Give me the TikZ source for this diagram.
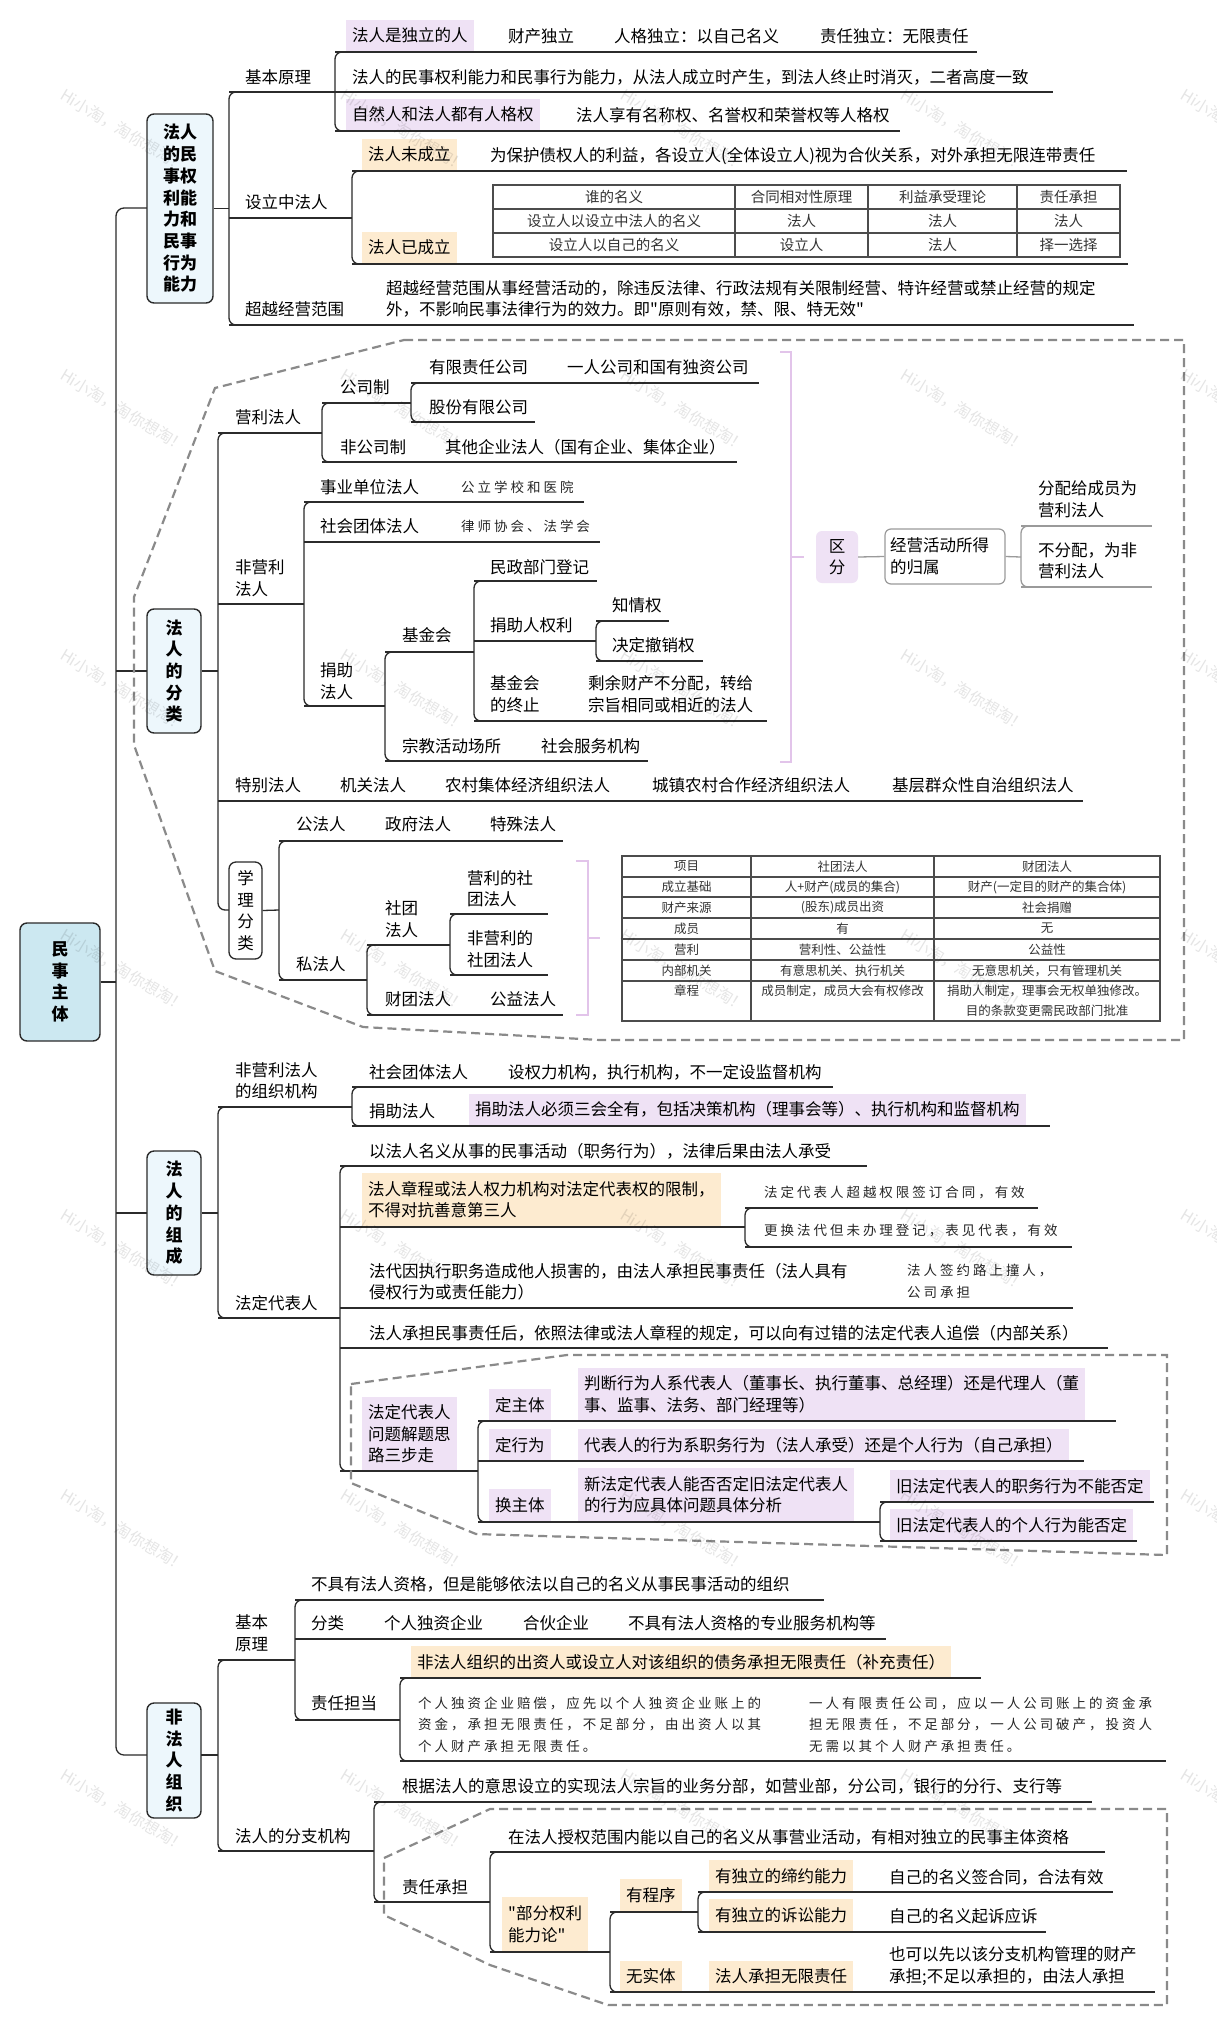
\documentclass[tikz,border=0pt]{standalone}
\usepackage{fontspec}
\setmainfont{Noto Sans CJK SC}
\newfontfamily\hwfam[LetterSpace=22]{Noto Sans CJK SC}
\newfontfamily\qfam{Noto Sans CJK SC}
\usepackage{tikz}
\definecolor{line-draw}{HTML}{2B2B2B}
\definecolor{soft-draw}{HTML}{9A9A9A}
\definecolor{dash-draw}{HTML}{8A8A8A}
\definecolor{rootfill}{HTML}{CCE8F1}
\definecolor{lvlfill}{HTML}{EDF7FC}
\definecolor{hlpurple}{HTML}{EFE2F5}
\definecolor{hlorange}{HTML}{FDEBD0}
\definecolor{brkline}{HTML}{E2C4EA}
\definecolor{tabtext}{HTML}{333333}
\newcommand\fs{\fontsize{16.5}{21.5}\selectfont}
\newcommand\fsb{\fontsize{17}{21.7}\selectfont\bfseries}
\newcommand\fst{\fontsize{14.5}{18}\selectfont}
\newcommand\fsu{\fontsize{12.5}{20}\selectfont}
\newcommand\fsh{\fontsize{13.5}{21.5}\hwfam}
\newcommand\dq{{\qfam"}}
% spine of a fork: x, top y, bottom y
\newcommand\mmspine[4][ln]{\draw[#1, rounded corners=7pt] (#2+12,#3) -- (#2,#3) -- (#2,#4) -- (#2+12,#4);}
% underline: y, from x, to x
\newcommand\mmline[4][ln]{\draw[#1] (#3,#2) -- (#4,#2);}

\begin{document}
\begin{tikzpicture}[x=1pt, y=-1pt,
 ln/.style={draw=line-draw, line width=1.3pt},
 lg/.style={draw=soft-draw, line width=1.3pt},
 brk/.style={draw=brkline, line width=2.4pt},
 bound/.style={draw=dash-draw, line width=2.2pt, dash pattern=on 9pt off 5pt},
 tbl/.style={draw=black!70, line width=1.2pt},
 tx/.style={anchor=west, inner sep=0pt, align=left, font=\fs},
 hw/.style={tx, font=\fsh, text=black!85},
 hlP/.style={anchor=south west, fill=hlpurple, inner xsep=6pt, inner ysep=0pt,
 minimum height=31pt, align=left, font=\fs},
 hlO/.style={hlP, fill=hlorange},
 lvl/.style={draw=line-draw, line width=1.4pt, rounded corners=7pt, fill=lvlfill,
 align=center, font=\fsb, inner sep=0pt, minimum width=54pt},
 rootbox/.style={lvl, fill=rootfill, minimum width=80pt, minimum height=118pt},
 tb/.style={inner sep=0pt, font=\fst, text=tabtext, align=center},
 tu/.style={tb, font=\fsu},
 wmk/.style={anchor=west, rotate=-31, text=black, opacity=0.1, font=\fontsize{16}{16}\selectfont},
]
\useasboundingbox (0,0) rectangle (1216,2026);
\fill[white] (0,0) rectangle (1216,2026);

% root and main spine
\node[rootbox] (root) at (60,982) {民\\事\\主\\体};
\draw[ln, rounded corners=8pt] (147,208) -- (116,208) -- (116,1755) -- (147,1755);
\draw[ln] (root.east) -- (116,982);
\draw[ln] (116,671) -- (147,671);
\draw[ln] (116,1213) -- (147,1213);
\node[lvl, minimum width=66pt, minimum height=189pt] (secA) at (180,208.5) {法人\\的民\\事权\\利能\\力和\\民事\\行为\\能力};
\node[lvl, minimum height=124pt] (secB) at (174,671) {法\\人\\的\\分\\类};
\node[lvl, minimum height=124pt] (secC) at (174,1213) {法\\人\\的\\组\\成};
\node[lvl, minimum height=115pt] (secD) at (174,1760.5) {非\\法\\人\\组\\织};
\draw[ln] (secA.east) -- (229,208.5);
\draw[ln] (secB.east) -- (218,671);
\draw[ln] (secC.east) -- (218,1213);
\draw[ln] (201,1755) -- (218,1755);

% ---------- 法人的民事权利能力和民事行为能力
\mmspine{229}{92}{325}
\mmline{92}{229}{335}
\mmline{218}{229}{352}
\mmline{325}{229}{1134}
\node[tx] (a1) at (245,77) {基本原理};
\node[tx] (a2) at (245,202) {设立中法人};
\node[tx] (a3) at (245,309) {超越经营范围};
\node[tx] (a31) at (386,299) {超越经营范围从事经营活动的，除违反法律、行政法规有关限制经营、特许经营或禁止经营的规定\\外，不影响民事法律行为的效力。即\dq 原则有效，禁、限、特无效\dq};
\mmspine{335}{52}{131}
\mmline{52}{335}{977}
\mmline{92}{335}{1053}
\mmline{131}{335}{900}
\node[hlP] (a11) at (346,51) {法人是独立的人};
\node[tx] (a12) at (508,36) {财产独立};
\node[tx] (a13) at (614,36) {人格独立：以自己名义};
\node[tx] (a14) at (820,36) {责任独立：无限责任};
\node[tx] (a15) at (352,77) {法人的民事权利能力和民事行为能力，从法人成立时产生，到法人终止时消灭，二者高度一致};
\node[hlP] (a16) at (346,130) {自然人和法人都有人格权};
\node[tx] (a17) at (576,115) {法人享有名称权、名誉权和荣誉权等人格权};
\mmspine{352}{171}{264}
\mmline{171}{352}{1127}
\mmline{264}{352}{1128}
\node[hlO] (a21) at (362,170) {法人未成立};
\node[tx] (a22) at (490,156) {为保护债权人的利益，各设立人(全体设立人)视为合伙关系，对外承担无限连带责任};
\node[hlO] (a23) at (362,263) {法人已成立};
% table of 设立中法人
\draw[tbl] (493,185) rectangle (1120,257);
\draw[tbl] (493,209) -- (1120,209) (493,233) -- (1120,233)
 (735,185) -- (735,257) (868,185) -- (868,257) (1017,185) -- (1017,257);
\node[tb] (ta1) at (614,197) {谁的名义};
\node[tb] (ta2) at (801.5,197) {合同相对性原理};
\node[tb] (ta3) at (942.5,197) {利益承受理论};
\node[tb] (ta4) at (1068.5,197) {责任承担};
\node[tb] (ta5) at (614,221) {设立人以设立中法人的名义};
\node[tb] (ta6) at (801.5,221) {法人};
\node[tb] (ta7) at (942.5,221) {法人};
\node[tb] (ta8) at (1068.5,221) {法人};
\node[tb] (ta9) at (614,245) {设立人以自己的名义};
\node[tb] (ta10) at (801.5,245) {设立人};
\node[tb] (ta11) at (942.5,245) {法人};
\node[tb] (ta12) at (1068.5,245) {择一选择};

% ---------- 法人的分类
\draw[bound] (404,340) -- (1184,340) -- (1184,1040) -- (600,1040) -- (363,1027)
 -- (215,971) -- (134,745) -- (134,597) -- (215,388) -- cycle;
\mmspine{218}{433}{910}
\mmline{433}{218}{322}
\mmline{604}{218}{304}
\mmline{801}{218}{1083}
\node[tx] (b1) at (235,417) {营利法人};
\node[tx] (b2) at (235,578) {非营利\\法人};
\node[tx] (b3) at (235,785) {特别法人};
\node[draw=line-draw, line width=1.3pt, rounded corners=7pt, fill=white, minimum width=33pt,
 minimum height=97pt, inner sep=0pt, align=center, font=\fs] (b4) at (245.5,910.5) {学\\理\\分\\类};
\draw[ln] (b4.east) -- (279,910);
\mmspine{322}{403}{462}
\mmline{403}{322}{411}
\mmline{462}{322}{737}
\node[tx] (b11) at (340,387) {公司制};
\node[tx] (b12) at (340,447) {非公司制};
\node[tx] (b13) at (445,447) {其他企业法人（国有企业、集体企业）};
\mmspine{411}{383}{422}
\mmline{383}{411}{759}
\mmline{422}{411}{535}
\node[tx] (b111) at (429,367) {有限责任公司};
\node[tx] (b112) at (567,367) {一人公司和国有独资公司};
\node[tx] (b113) at (429,407) {股份有限公司};
\mmspine{304}{502}{706}
\mmline{502}{304}{584}
\mmline{542}{304}{600}
\mmline{706}{304}{385}
\node[tx] (b21) at (320,487) {事业单位法人};
\node[hw] (b22) at (461,487) {公立学校和医院};
\node[tx] (b23) at (320,526) {社会团体法人};
\node[hw] (b24) at (461,526) {律师协会、法学会};
\node[tx] (b25) at (320,681) {捐助\\法人};
\mmspine{385}{652}{761}
\mmline{652}{385}{474}
\mmline{761}{385}{648}
\node[tx] (b251) at (402,635) {基金会};
\node[tx] (b252) at (402,746) {宗教活动场所};
\node[tx] (b253) at (541,746) {社会服务机构};
\mmspine{474}{581}{721}
\mmline{581}{474}{597}
\mmline{641}{474}{596}
\mmline{721}{474}{767}
\node[tx] (b2511) at (490,567) {民政部门登记};
\node[tx] (b2512) at (490,625) {捐助人权利};
\node[tx] (b2513) at (490,694) {基金会\\的终止};
\node[tx] (b2514) at (588,694) {剩余财产不分配，转给\\宗旨相同或相近的法人};
\mmspine{596}{621}{661}
\mmline{621}{596}{669}
\mmline{661}{596}{703}
\node[tx] (b25121) at (612,605) {知情权};
\node[tx] (b25122) at (612,645) {决定撤销权};
\node[tx] (b31) at (340,785) {机关法人};
\node[tx] (b32) at (445,785) {农村集体经济组织法人};
\node[tx] (b33) at (652,785) {城镇农村合作经济组织法人};
\node[tx] (b34) at (892,785) {基层群众性自治组织法人};
\mmspine{279}{841}{980}
\mmline{841}{279}{563}
\mmline{980}{279}{367}
\node[tx] (b41) at (296,824) {公法人};
\node[tx] (b42) at (385,824) {政府法人};
\node[tx] (b43) at (490,824) {特殊法人};
\node[tx] (b44) at (296,964) {私法人};
\mmspine{367}{945}{1015}
\mmline{945}{367}{450}
\mmline{1015}{367}{563}
\node[tx] (b441) at (385,919) {社团\\法人};
\node[tx] (b442) at (385,999) {财团法人};
\node[tx] (b443) at (490,999) {公益法人};
\mmspine{450}{914}{975}
\mmline{914}{450}{548}
\mmline{975}{450}{548}
\node[tx] (b4411) at (467,888.5) {营利的社\\团法人};
\node[tx] (b4412) at (467,949) {非营利的\\社团法人};
% summary: 区分
\draw[brk] (780,352) -- (791,352) -- (791,762) -- (780,762);
\draw[brk] (791,557) -- (804,557);
\node[fill=hlpurple, rounded corners=6pt, minimum width=42pt, minimum height=52pt,
 inner sep=0pt, align=center, font=\fs] (qf) at (837,557) {区\\分};
\node[draw=soft-draw, line width=1.2pt, rounded corners=6pt, minimum height=55pt,
 text width=110pt, inner xsep=5pt, align=left, font=\fs] (gs) at (945,556.5) {经营活动所得\\的归属};
\draw[lg] (qf.east) -- (gs.west);
\draw[lg] (gs.east) -- (1021,557);
\mmspine[lg]{1021}{526}{587}
\mmline[lg]{526}{1021}{1152}
\mmline[lg]{587}{1021}{1152}
\node[tx] (q1) at (1038,499.5) {分配给成员为\\营利法人};
\node[tx] (q2) at (1038,561) {不分配，为非\\营利法人};
% summary: 社团法人与财团法人
\draw[brk] (576,861) -- (588,861) -- (588,1015) -- (576,1015);
\draw[brk] (588,938) -- (600,938);
\draw[tbl] (622,856) rectangle (1160,1021);
\draw[tbl] (622,877) -- (1160,877) (622,897) -- (1160,897) (622,918) -- (1160,918)
 (622,939) -- (1160,939) (622,960) -- (1160,960) (622,981) -- (1160,981)
 (751,856) -- (751,1021) (934,856) -- (934,1021);
\node[tu] (tb1) at (686.5,866.5) {项目};
\node[tu] (tb2) at (842.5,866.5) {社团法人};
\node[tu] (tb3) at (1047,866.5) {财团法人};
\node[tu] (tb4) at (686.5,887) {成立基础};
\node[tu] (tb5) at (842.5,887) {人+财产(成员的集合)};
\node[tu] (tb6) at (1047,887) {财产(一定目的财产的集合体)};
\node[tu] (tb7) at (686.5,907.5) {财产来源};
\node[tu] (tb8) at (842.5,907.5) {(股东)成员出资};
\node[tu] (tb9) at (1047,907.5) {社会捐赠};
\node[tu] (tb10) at (686.5,928.5) {成员};
\node[tu] (tb11) at (842.5,928.5) {有};
\node[tu] (tb12) at (1047,928.5) {无};
\node[tu] (tb13) at (686.5,949.5) {营利};
\node[tu] (tb14) at (842.5,949.5) {营利性、公益性};
\node[tu] (tb15) at (1047,949.5) {公益性};
\node[tu] (tb16) at (686.5,970.5) {内部机关};
\node[tu] (tb17) at (842.5,970.5) {有意思机关、执行机关};
\node[tu] (tb18) at (1047,970.5) {无意思机关，只有管理机关};
\node[tu] (tb19) at (686.5,991) {章程};
\node[tu] (tb20) at (842.5,991) {成员制定，成员大会有权修改};
\node[tu] (tb21) at (1047,1001) {捐助人制定，理事会无权单独修改。\\目的条款变更需民政部门批准};

% ---------- 法人的组成
\mmspine{218}{1107}{1318}
\mmline{1107}{218}{352}
\mmline{1318}{218}{340}
\node[tx] (c1) at (235,1080.5) {非营利法人\\的组织机构};
\node[tx] (c2) at (235,1303) {法定代表人};
\mmspine{352}{1087}{1126}
\mmline{1087}{352}{833}
\mmline{1126}{352}{1050}
\node[tx] (c11) at (369,1072) {社会团体法人};
\node[tx] (c12) at (508,1072) {设权力机构，执行机构，不一定设监督机构};
\node[tx] (c13) at (369,1111) {捐助法人};
\node[hlP] (c14) at (469,1125.5) {捐助法人必须三会全有，包括决策机构（理事会等）、执行机构和监督机构};
\mmspine{340}{1166}{1471}
\mmline{1166}{340}{867}
\mmline{1227}{340}{745}
\mmline{1308}{340}{1073}
\mmline{1348}{340}{1108}
\mmline{1471}{340}{478}
\node[tx] (c21) at (369,1151) {以法人名义从事的民事活动（职务行为），法律后果由法人承受};
\node[hlO, minimum height=53pt] (c22) at (362,1226.5) {法人章程或法人权力机构对法定代表权的限制，\\不得对抗善意第三人};
\mmspine{745}{1208}{1247}
\mmline{1208}{745}{1038}
\mmline{1247}{745}{1072}
\node[hw] (c221) at (764,1192) {法定代表人超越权限签订合同，有效};
\node[hw] (c222) at (764,1231) {更换法代但未办理登记，表见代表，有效};
\node[tx] (c23) at (369,1281.5) {法代因执行职务造成他人损害的，由法人承担民事责任（法人具有\\侵权行为或责任能力）};
\node[hw] (c24) at (907,1281.5) {法人签约路上撞人，\\公司承担};
\node[tx] (c25) at (369,1333) {法人承担民事责任后，依照法律或法人章程的规定，可以向有过错的法定代表人追偿（内部关系）};
\draw[bound] (351,1384) -- (567,1355) -- (1167,1355) -- (1167,1555) -- (476,1534)
 -- (351,1483) -- cycle;
\node[hlP, minimum height=73pt] (c26) at (362,1470.5) {法定代表人\\问题解题思\\路三步走};
\mmspine{478}{1421}{1522}
\mmline{1421}{478}{1116}
\mmline{1461}{478}{1084}
\mmline{1522}{478}{880}
\node[hlP] (c261) at (489,1420.5) {定主体};
\node[hlP, minimum height=52pt] (c262) at (578,1420.5) {判断行为人系代表人（董事长、执行董事、总经理）还是代理人（董\\事、监事、法务、部门经理等）};
\node[hlP] (c263) at (489,1460.5) {定行为};
\node[hlP] (c264) at (578,1460.5) {代表人的行为系职务行为（法人承受）还是个人行为（自己承担）};
\node[hlP, minimum height=32pt] (c265) at (489,1521.5) {换主体};
\node[hlP, minimum height=53pt] (c266) at (578,1521.5) {新法定代表人能否否定旧法定代表人\\的行为应具体问题具体分析};
\mmspine{880}{1502}{1541}
\mmline{1502}{880}{1154}
\mmline{1541}{880}{1137}
\node[hlP] (c2661) at (890,1501.5) {旧法定代表人的职务行为不能否定};
\node[hlP] (c2662) at (890,1540.5) {旧法定代表人的个人行为能否定};

% ---------- 非法人组织
\mmspine{218}{1660}{1851}
\mmline{1660}{218}{295}
\mmline{1851}{218}{374}
\node[tx] (d1) at (235,1633) {基本\\原理};
\node[tx] (d2) at (235,1836) {法人的分支机构};
\mmspine{295}{1600}{1720}
\mmline{1600}{295}{824}
\mmline{1639}{295}{886}
\mmline{1720}{295}{400}
\node[tx] (d11) at (311,1584) {不具有法人资格，但是能够依法以自己的名义从事民事活动的组织};
\node[tx] (d12) at (311,1623) {分类};
\node[tx] (d13) at (384,1623) {个人独资企业};
\node[tx] (d14) at (523,1623) {合伙企业};
\node[tx] (d15) at (628,1623) {不具有法人资格的专业服务机构等};
\node[tx] (d16) at (311,1703) {责任担当};
\mmspine{400}{1678}{1761}
\mmline{1678}{400}{981}
\mmline{1761}{400}{1166}
\node[hlO] (d161) at (411,1677.5) {非法人组织的出资人或设立人对该组织的债务承担无限责任（补充责任）};
\node[hw] (d162) at (418,1724.5) {个人独资企业赔偿，应先以个人独资企业账上的\\资金，承担无限责任，不足部分，由出资人以其\\个人财产承担无限责任。};
\node[hw] (d163) at (809,1724.5) {一人有限责任公司，应以一人公司账上的资金承\\担无限责任，不足部分，一人公司破产，投资人\\无需以其个人财产承担责任。};
\mmspine{374}{1802}{1902}
\mmline{1802}{374}{1092}
\mmline{1902}{374}{490}
\node[tx] (d21) at (402,1786) {根据法人的意思设立的实现法人宗旨的业务分部，如营业部，分公司，银行的分行、支行等};
\node[tx] (d22) at (402,1887) {责任承担};
\draw[bound] (384,1858) -- (490,1809) -- (1167,1809) -- (1167,2005) -- (608,2005)
 -- (490,1965) -- (384,1915) -- cycle;
\mmspine{490}{1852}{1952}
\mmline{1852}{490}{1105}
\mmline{1952}{490}{610}
\node[tx] (d221) at (508,1837) {在法人授权范围内能以自己的名义从事营业活动，有相对独立的民事主体资格};
\node[hlO, minimum height=54pt] (d222) at (502,1951.5) {\dq 部分权利\\能力论\dq};
\mmspine{610}{1912}{1992}
\mmline{1912}{610}{698}
\mmline{1992}{610}{1155}
\node[hlO, minimum height=32pt] (d2221) at (620,1911.5) {有程序};
\node[hlO, minimum height=30pt] (d2222) at (620,1991.5) {无实体};
\mmspine{698}{1892}{1932}
\mmline{1892}{698}{1113}
\mmline{1932}{698}{1046}
\node[hlO] (d22211) at (709,1891.5) {有独立的缔约能力};
\node[tx] (d22212) at (889,1877) {自己的名义签合同，合法有效};
\node[hlO, minimum height=32pt] (d22213) at (709,1931.5) {有独立的诉讼能力};
\node[tx] (d22214) at (889,1916) {自己的名义起诉应诉};
\node[hlO, minimum height=30pt] (d22221) at (709,1991.5) {法人承担无限责任};
\node[tx] (d22222) at (889,1966) {也可以先以该分支机构管理的财产\\承担;不足以承担的，由法人承担};

% watermark
\foreach \i in {0,...,4}
 \foreach \j in {0,...,6}
 \node[wmk] (wm-\i-\j) at (59+280*\i, 92+280*\j) {Hi小淘，淘你想淘！};
\end{tikzpicture}
\end{document}
